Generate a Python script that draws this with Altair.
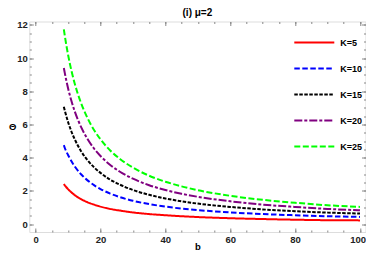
import altair as alt
import pandas as pd

b_vals = [8.7, 9, 10, 11, 12, 14, 16, 18, 20, 23, 26, 30, 35, 40, 45, 50, 60, 70, 80, 90, 100]
theta_k5 = [2.41, 2.33, 2.10, 1.91, 1.75, 1.50, 1.31, 1.17, 1.05, 0.91, 0.81, 0.70, 0.60, 0.53, 0.47, 0.42, 0.35, 0.30, 0.26, 0.23, 0.22]
theta_k10 = [4.75, 4.58, 4.16, 3.80, 3.49, 3.00, 2.63, 2.34, 2.11, 1.83, 1.62, 1.40, 1.20, 1.05, 0.93, 0.84, 0.70, 0.60, 0.53, 0.47, 0.43]
theta_k15 = [7.06, 6.83, 6.15, 5.59, 5.13, 4.39, 3.84, 3.42, 3.08, 2.67, 2.37, 2.05, 1.76, 1.54, 1.37, 1.23, 1.03, 0.88, 0.77, 0.69, 0.63]
theta_k20 = [9.40, 9.09, 8.18, 7.44, 6.82, 5.85, 5.12, 4.55, 4.10, 3.56, 3.15, 2.73, 2.34, 2.05, 1.82, 1.64, 1.37, 1.17, 1.03, 0.91, 0.83]
theta_k25 = [11.72, 11.33, 10.20, 9.27, 8.50, 7.29, 6.38, 5.67, 5.10, 4.43, 3.92, 3.40, 2.91, 2.55, 2.27, 2.04, 1.70, 1.46, 1.28, 1.13, 1.03]

series_names = ["K=5", "K=10", "K=15", "K=20", "K=25"]
series_values = [theta_k5, theta_k10, theta_k15, theta_k20, theta_k25]
colors = ["#ff0000", "#0000ff", "#000000", "#800080", "#00ff00"]
dashes = [[1, 0], [5.5, 2.5], [3.5, 1.5], [8, 2, 3, 2], [6, 2.5]]
widths = [2, 2, 4.2, 4.2, 3.8]

x_major = [0, 20, 40, 60, 80, 100]
x_minor = [0, 5, 10, 15, 20, 25, 30, 35, 40, 45, 50, 55, 60, 65, 70, 75, 80, 85, 90, 95, 100]
y_major = [0, 2, 4, 6, 8, 10, 12]
y_minor = [0, 0.5, 1, 1.5, 2, 2.5, 3, 3.5, 4, 4.5, 5, 5.5, 6, 6.5, 7, 7.5, 8, 8.5, 9, 9.5, 10, 10.5, 11, 11.5, 12]

rows = []
for name, vals in zip(series_names, series_values):
    for b, t in zip(b_vals, vals):
        rows.append({"b": b, "theta": t, "K": name})
df = pd.DataFrame(rows)

FONT = "Liberation Sans"
xscale = alt.Scale(domain=[-1.95, 101.7], nice=False, zero=False)
yscale = alt.Scale(domain=[-0.48, 12.2], nice=False, zero=False)

legend = alt.Legend(
    title=None, orient="none", legendX=264, legendY=0,
    symbolType="stroke", symbolSize=1600, labelFont=FONT, labelFontSize=9,
    labelFontWeight="bold", labelColor="#000000", labelOffset=5, rowPadding=-4.8,
    padding=0, symbolOpacity=1,
)

lines = alt.Chart(df).mark_line(interpolate="monotone").encode(
    x=alt.X("b:Q", scale=xscale,
            axis=alt.Axis(orient="bottom", values=x_major, tickSize=4, offset=-4,
                          labelPadding=2, domain=False, grid=False, title="b",
                          titleFont=FONT, titleFontSize=9.5, titleFontWeight="bold",
                          titleY=18, titleBaseline="middle",
                          labelFont=FONT, labelFontSize=9.5,
                          labelFontWeight="bold", labelColor="#222222",
                          labelFlush=6, labelFlushOffset=5.5,
                          tickColor="#888888", format="d")),
    y=alt.Y("theta:Q", scale=yscale,
            axis=alt.Axis(orient="left", values=y_major, tickSize=4, offset=-4,
                          labelPadding=2, domain=False, grid=False, title="Θ",
                          titleAngle=0, titleFont=FONT, titleFontSize=9.5,
                          titleFontWeight="bold", titleX=-21, titleY=104.5,
                          titleAlign="center", titleBaseline="middle",
                          labelFont=FONT, labelFontSize=9.5, labelFontWeight="bold",
                          labelColor="#222222", tickColor="#888888", format="d")),
    color=alt.Color("K:N", scale=alt.Scale(domain=series_names, range=colors),
                    sort=series_names, legend=legend),
    strokeDash=alt.StrokeDash("K:N", scale=alt.Scale(domain=series_names, range=dashes),
                              sort=series_names, legend=legend),
    strokeWidth=alt.StrokeWidth("K:N", scale=alt.Scale(domain=series_names, range=widths),
                                sort=series_names, legend=legend),
)


def tick_layer(xorient, yorient, xvals, yvals, size):
    return alt.Chart(df).mark_line(opacity=0, strokeWidth=0).encode(
        x=alt.X("b:Q", scale=xscale,
                axis=alt.Axis(orient=xorient, values=xvals, tickSize=size, offset=-size,
                              labels=False, domain=False, grid=False, title=None,
                              tickColor="#888888")),
        y=alt.Y("theta:Q", scale=yscale,
                axis=alt.Axis(orient=yorient, values=yvals, tickSize=size, offset=-size,
                              labels=False, domain=False, grid=False, title=None,
                              tickColor="#888888")),
    )


chart = alt.layer(
    lines,
    tick_layer("top", "right", x_major, y_major, 4),
    tick_layer("bottom", "left", x_minor, y_minor, 2),
    tick_layer("top", "right", x_minor, y_minor, 2),
).resolve_axis(x="independent", y="independent").properties(
    width=336.2, height=210.5,
    padding={"left": 21.3, "top": 13.5, "right": 0.5, "bottom": 22},
    autosize=alt.AutoSizeParams(type="none"),
    title=alt.TitleParams("(i) μ=2", font=FONT, fontSize=10, fontWeight="bold",
                          anchor="middle", offset=2, frame="group", color="#000000"),
).configure_view(stroke="#888888", strokeWidth=1).configure(background="white")

chart.save("out.html", embed_options={"renderer": "svg", "actions": False})
